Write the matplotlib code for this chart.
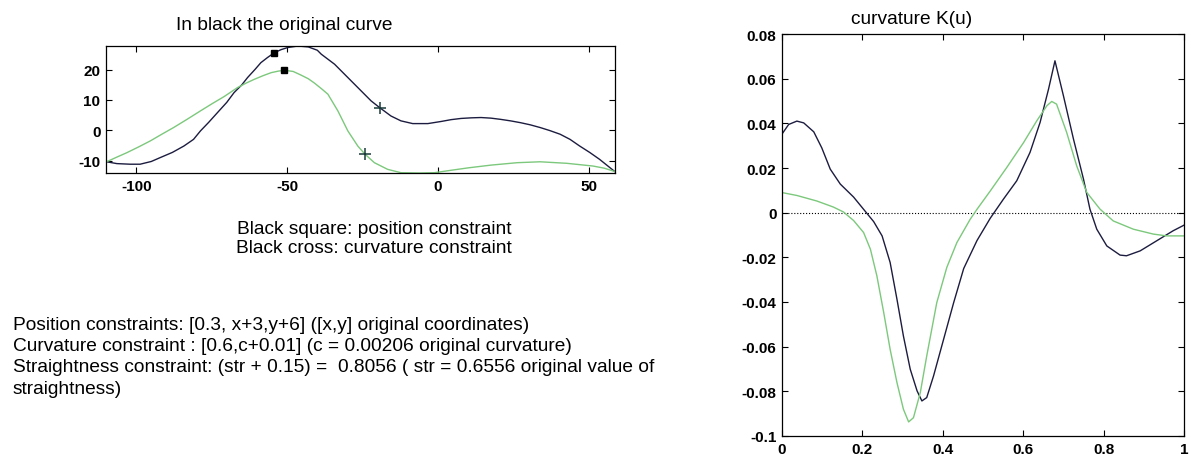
import matplotlib
matplotlib.use("Agg")
import matplotlib.pyplot as plt

plt.rcParams['font.family'] = ['Liberation Sans', 'DejaVu Sans']
plt.rcParams['axes.unicode_minus'] = False

# Left plot: original curve (black) and modified curve (green)
orig_x = [-109.8, -106.4, -102.0, -98.7, -95.0, -92.0, -88.0, -84.2, -81.0, -78.7, -76.0,
          -73.1, -70.0, -67.6, -65.0, -63.1, -60.7, -58.7, -56.5, -54.2, -52.0, -49.8,
          -46.4, -43.0, -40.0, -38.7, -34.3, -29.9, -25.5, -22.2, -19.4, -15.6, -12.3,
          -8.4, -3.4, 1.0, 4.3, 7.6, 11.0, 14.2, 17.5, 20.7, 24.0, 27.3, 30.5, 33.8,
          37.0, 40.4, 43.7, 46.9, 50.2, 53.5, 56.0, 58.5]
orig_y = [-10.4, -11.0, -11.2, -11.2, -10.3, -9.0, -7.3, -5.2, -3.0, -0.2, 2.6,
          5.8, 9.2, 12.4, 15.0, 17.4, 20.0, 22.3, 24.0, 25.6, 26.6, 27.3,
          27.8, 27.5, 26.4, 25.1, 21.8, 17.4, 13.0, 9.7, 7.5, 4.7, 3.1,
          2.2, 2.2, 2.9, 3.5, 3.9, 4.1, 4.2, 4.0, 3.6, 3.1, 2.5, 1.8, 0.9,
          -0.1, -1.3, -3.0, -5.2, -7.3, -9.6, -11.6, -13.6]
new_x = [-109.8, -106.5, -103.1, -99.0, -95.3, -91.5, -87.6, -83.0, -78.7, -74.8, -70.9,
         -66.4, -63.5, -60.9, -58.0, -55.3, -53.0, -50.9, -48.0, -45.4, -43.0, -41.0, -38.5,
         -36.5, -33.2, -29.9, -26.6, -24.2, -21.1, -16.7, -12.3, -6.0, -1.2, 4.3, 10.0, 17.5,
         26.2, 33.8, 42.6, 51.3, 55.0, 58.5]
new_y = [-10.4, -8.9, -7.4, -5.4, -3.5, -1.3, 0.9, 3.7, 6.4, 8.8, 11.1,
         14.1, 15.6, 16.8, 18.0, 19.0, 19.5, 19.8, 19.4, 18.2, 17.0, 15.6, 13.6,
         11.9, 6.4, -0.2, -5.2, -7.9, -10.7, -12.9, -14.0, -14.1, -14.0, -13.2, -12.4, -11.5,
         -10.7, -10.4, -10.9, -11.8, -12.5, -13.6]
square_x = [-54.2, -50.9]
square_y = [25.6, 19.8]
cross_x = [-19.4, -24.2]
cross_y = [7.5, -7.9]

# Right plot: curvature K(u)
ku_orig_u = [0.0, 0.0166, 0.037, 0.054, 0.079, 0.099, 0.12, 0.145, 0.178, 0.203, 0.228,
             0.249, 0.269, 0.286, 0.302, 0.319, 0.336, 0.348, 0.36, 0.377, 0.402, 0.427,
             0.452, 0.485, 0.518, 0.551, 0.584, 0.617, 0.642, 0.663, 0.679, 0.70, 0.725,
             0.75, 0.766, 0.783, 0.808, 0.841, 0.857, 0.891, 0.932, 0.973, 1.0]
ku_orig_k = [0.0352, 0.0395, 0.0410, 0.0402, 0.0362, 0.0290, 0.0195, 0.0128, 0.0070, 0.0015,
             -0.0040, -0.0104, -0.0223, -0.0388, -0.0552, -0.0701, -0.0798, -0.0843, -0.0828,
             -0.0731, -0.0567, -0.0403, -0.0250, -0.0125, -0.0025, 0.0061, 0.0143, 0.0270,
             0.0404, 0.0553, 0.0680, 0.0524, 0.0330, 0.0150, 0.0016, -0.0074, -0.0149,
             -0.0190, -0.0193, -0.0171, -0.0126, -0.0081, -0.0056]
ku_new_u = [0.0, 0.037, 0.087, 0.128, 0.153, 0.178, 0.203, 0.22, 0.236, 0.253, 0.269, 0.286,
            0.302, 0.315, 0.327, 0.344, 0.36, 0.385, 0.41, 0.435, 0.468, 0.485, 0.518, 0.559,
            0.601, 0.634, 0.659, 0.671, 0.683, 0.708, 0.733, 0.758, 0.791, 0.824, 0.874,
            0.924, 0.957, 1.0]
ku_new_k = [0.0090, 0.0077, 0.0052, 0.0025, 0.0003, -0.0035, -0.0089, -0.0164, -0.0283,
            -0.0447, -0.0612, -0.0761, -0.0880, -0.0937, -0.0918, -0.0806, -0.0642, -0.0403,
            -0.0245, -0.0134, -0.0030, 0.0015, 0.0097, 0.0202, 0.0314, 0.0412, 0.0479, 0.0498,
            0.0486, 0.0360, 0.0210, 0.0091, 0.0016, -0.0037, -0.0074, -0.0096, -0.0104, -0.0104]

left_xticks = [-100, -50, 0, 50]
left_yticks = [-10, 0, 10, 20]
right_xticks = [0, 0.2, 0.4, 0.6, 0.8, 1]
right_xlabels = ['0', '0.2', '0.4', '0.6', '0.8', '1']
right_yticks = [-0.1, -0.08, -0.06, -0.04, -0.02, 0, 0.02, 0.04, 0.06, 0.08]
right_ylabels = ['-0.1', '-0.08', '-0.06', '-0.04', '-0.02', '0', '0.02', '0.04', '0.06', '0.08']

BLACK = '#1c1c40'
GREEN = '#7cc87c'
W, H = 1191, 456

fig = plt.figure(figsize=(W / 100, H / 100), dpi=100)

def style(ax):
    ax.tick_params(direction='in', length=4, width=0.8, top=True, right=True,
                   labelsize=11, pad=4)
    for lab in ax.get_xticklabels() + ax.get_yticklabels():
        lab.set_fontweight('bold')
    for s in ax.spines.values():
        s.set_linewidth(0.9)

# Left axes
ax1 = fig.add_axes([106 / W, 1 - 174 / H, 509 / W, 127 / H])
ax1.plot(orig_x, orig_y, color=BLACK, lw=1.0)
ax1.plot(new_x, new_y, color=GREEN, lw=1.0)
ax1.plot(square_x, square_y, 's', color='black', ms=4)
ax1.plot(cross_x, cross_y, '+', color='#1a3a3a', ms=9, mew=1.1)
ax1.set_xlim(-110, 58.6)
ax1.set_ylim(-14.1, 27.8)
ax1.set_xticks(left_xticks)
ax1.set_yticks(left_yticks)
style(ax1)

# Right axes
ax2 = fig.add_axes([782 / W, 1 - 437 / H, 402 / W, 402 / H])
ax2.plot([0, 1], [0, 0], ':', color='black', lw=0.8)
ax2.plot(ku_orig_u, ku_orig_k, color=BLACK, lw=1.0)
ax2.plot(ku_new_u, ku_new_k, color=GREEN, lw=1.0)
ax2.set_xlim(0, 1)
ax2.set_ylim(-0.1, 0.08)
ax2.set_xticks(right_xticks)
ax2.set_xticklabels(right_xlabels)
ax2.set_yticks(right_yticks)
ax2.set_yticklabels(right_ylabels)
style(ax2)

# Texts
fs = 13.8
fig.text(284 / W, 1 - 25 / H, 'In black the original curve', ha='center', va='center', fontsize=fs)
fig.text(912 / W, 1 - 20 / H, 'curvature K(u)', ha='center', va='center', fontsize=fs)
fig.text(374 / W, 1 - 230 / H, 'Black square: position constraint', ha='center', va='center', fontsize=fs)
fig.text(374 / W, 1 - 249 / H, 'Black cross: curvature constraint', ha='center', va='center', fontsize=fs)

lines = ['Position constraints: [0.3, x+3,y+6] ([x,y] original coordinates)',
         'Curvature constraint : [0.6,c+0.01] (c = 0.00206 original curvature)',
         'Straightness constraint: (str + 0.15) =  0.8056 ( str = 0.6556 original value of',
         'straightness)']
ys = [325, 347, 368, 390]
for t, y in zip(lines, ys):
    fig.text(13 / W, 1 - y / H, t, ha='left', va='center', fontsize=fs)

fig.savefig('out.png', dpi=100)
